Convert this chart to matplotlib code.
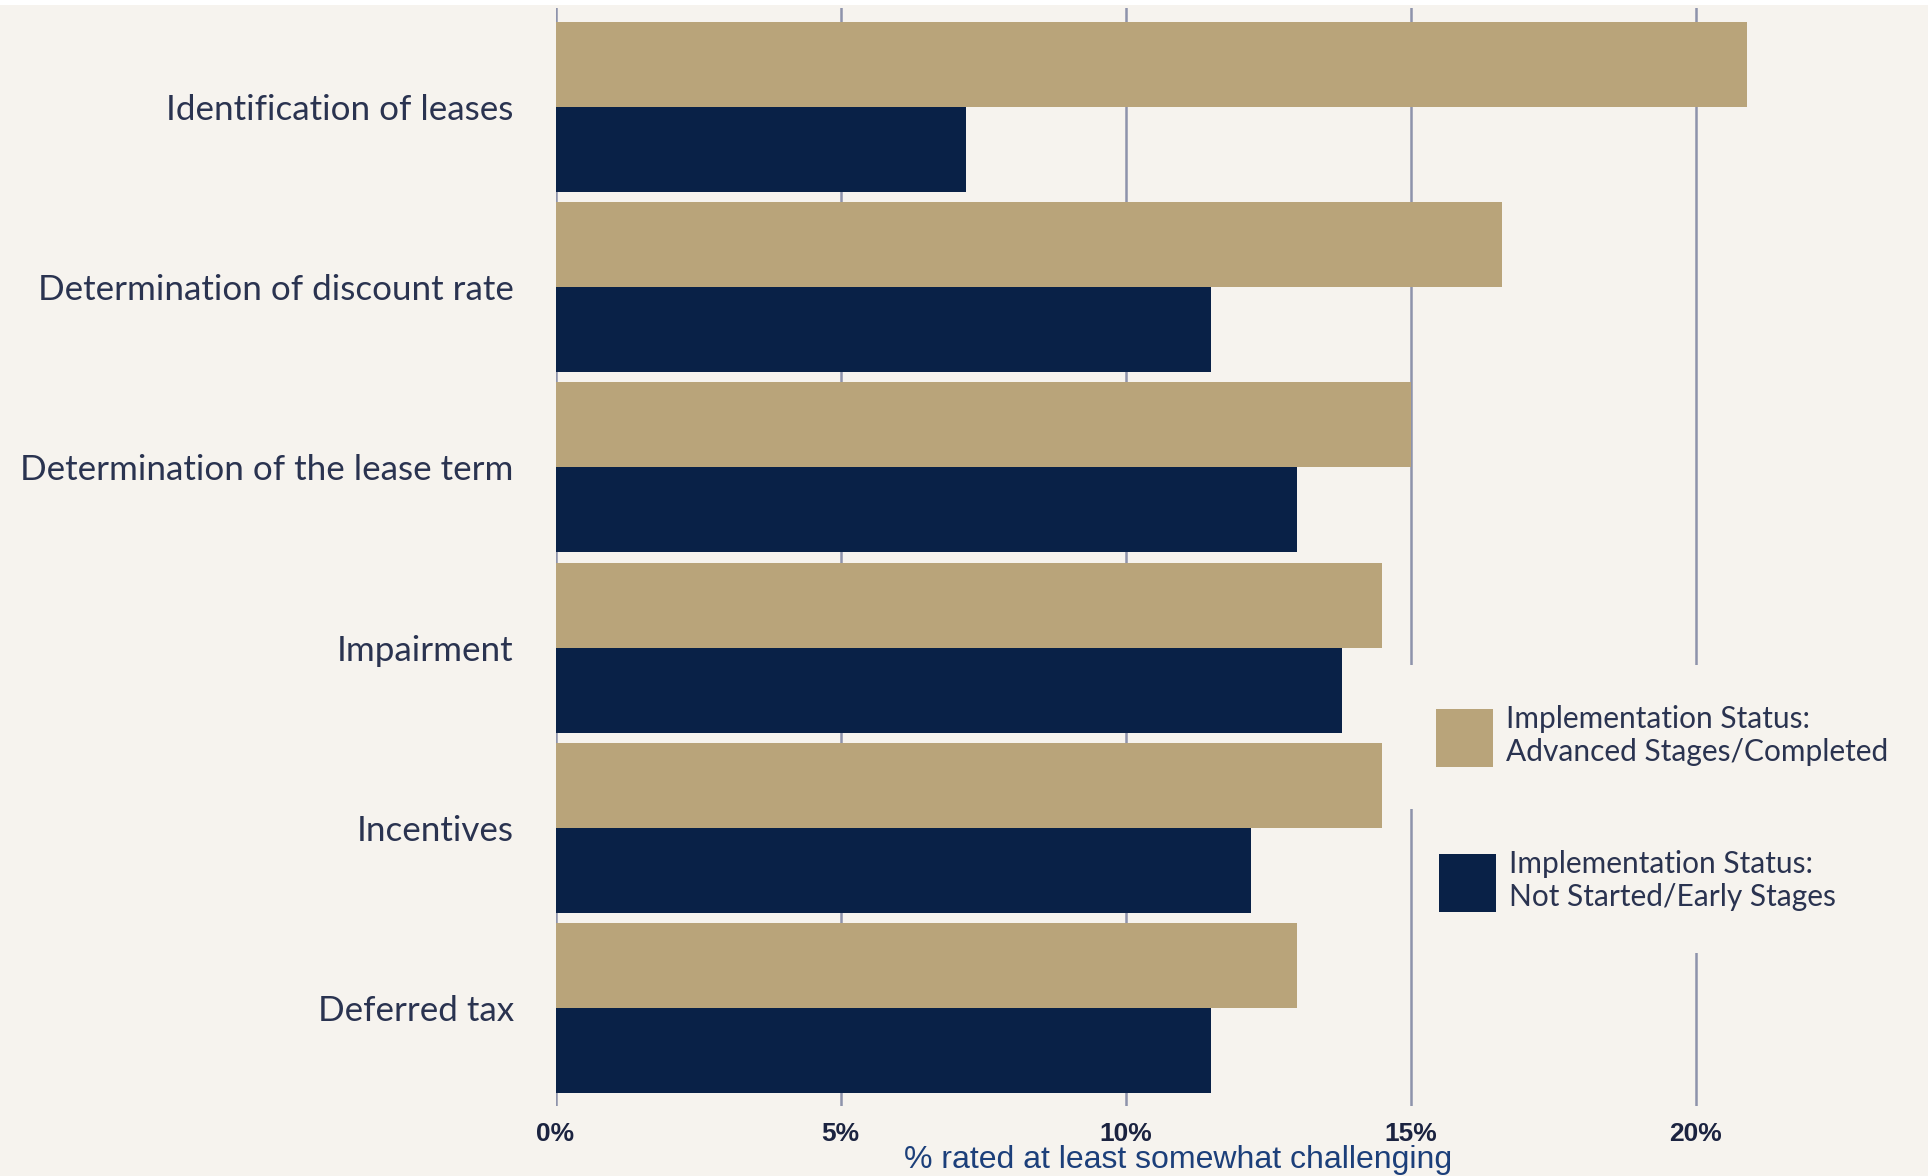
import matplotlib
matplotlib.use('Agg')
import numpy as np
import matplotlib.pyplot as plt
from matplotlib.patches import Patch, Rectangle

# data
categories = ['Identification of leases', 'Determination of discount rate',
              'Determination of the lease term', 'Impairment', 'Incentives',
              'Deferred tax']
advanced = [20.9, 16.6, 15.0, 14.5, 14.5, 13.0]
early = [7.2, 11.5, 13.0, 13.8, 12.2, 11.5]
xticks = [0, 5, 10, 15, 20]
xticklabels = ['0%', '5%', '10%', '15%', '20%']
legend_labels = ['Implementation Status:\nAdvanced Stages/Completed',
                 'Implementation Status:\nNot Started/Early Stages']

BG = '#f6f3ee'
TAN = '#b9a47a'
NAVY = '#092147'
GRID = '#8e93ab'
TXT = '#2a3350'
W, H = 1928, 1176

fig = plt.figure(figsize=(W / 100, H / 100), dpi=100)
fig.patch.set_facecolor(BG)
# thin white strip on top of the original
fig.patches.append(Rectangle((0, 1 - 5 / H), 1, 5 / H, transform=fig.transFigure,
                             facecolor='white', edgecolor='none', zorder=0))

ax = fig.add_axes([555.5 / W, 1 - 1106 / H, 1368 / W, 1098 / H])
ax.set_facecolor(BG)

h = 0.4717
y = np.arange(len(categories))
ax.barh(y - h / 2, advanced, height=h, color=TAN, zorder=2)
ax.barh(y + h / 2, early, height=h, color=NAVY, zorder=2)

ax.set_xlim(0, 24)
ax.set_ylim(len(categories) - 1 + h + 0.072, -h - 0.078)

for s in ax.spines.values():
    s.set_visible(False)
ax.set_xticks(xticks)
ax.set_xticklabels(xticklabels, fontsize=19, fontweight='bold',
                   family='Liberation Sans', color='#1b2340')
ax.set_yticks(y)
ax.set_yticklabels(categories, fontsize=25.2, family='Lato', color=TXT)
ax.tick_params(axis='both', length=0)
ax.tick_params(axis='x', pad=11.5)
ax.tick_params(axis='y', pad=30)
ax.grid(axis='x', color=GRID, linewidth=1.8, zorder=1)
ax.set_axisbelow(True)

fig.text(1178 / W, 1 - 1160 / H, '% rated at least somewhat challenging',
         fontsize=23, family='Liberation Sans', color='#1c3f7a',
         ha='center', va='center')

# background blocks behind the legend entries hide the grid lines there
for (x0, y0, y1) in [(1402, 665, 809), (1414, 809, 953)]:
    fig.patches.append(Rectangle((x0 / W, 1 - y1 / H), 1 - x0 / W, (y1 - y0) / H,
                                 transform=fig.transFigure, facecolor=BG,
                                 edgecolor='none', zorder=3))

fs = 21.5
for lab, col, anchor in zip(legend_labels, [TAN, NAVY],
                            [(1436 / W, 1 - 736 / H), (1439 / W, 1 - 881 / H)]):
    leg = fig.legend(handles=[Patch(facecolor=col, edgecolor='none')], labels=[lab],
                     loc='center left', bbox_to_anchor=anchor,
                     bbox_transform=fig.transFigure, borderaxespad=0, borderpad=0,
                     handlelength=1.91, handleheight=2.56, handletextpad=0.42,
                     frameon=False, prop={'family': 'Lato', 'size': fs})
    leg.set_zorder(4)
    for t in leg.get_texts():
        t.set_color(TXT)
        t.set_linespacing(1.18)

fig.savefig('out.png', dpi=100, facecolor=BG)
